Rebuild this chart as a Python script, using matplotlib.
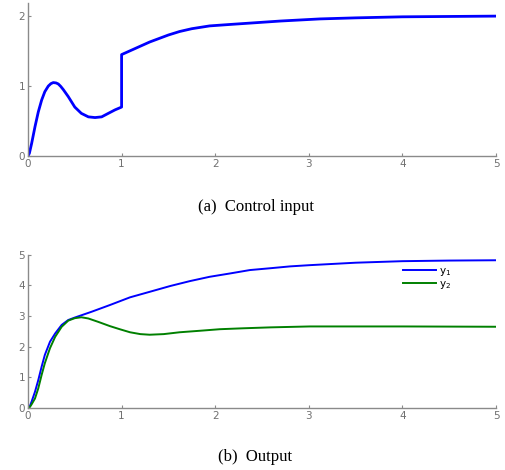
import matplotlib
matplotlib.use("Agg")
import matplotlib.pyplot as plt

# control input u(t), jump at t = 1
u_t = [0, 0.015, 0.039, 0.075, 0.11, 0.146, 0.18, 0.217, 0.245, 0.27, 0.30, 0.324, 0.35, 0.377, 0.43,
       0.50, 0.57, 0.645, 0.716, 0.787, 0.858, 0.93, 1.0,
       1.0, 1.1, 1.2, 1.3, 1.4, 1.5, 1.62, 1.75, 1.94, 2.15, 2.37, 2.7, 3.12, 3.5, 4.0, 4.5, 5.0]
u_v = [0, 0.04, 0.18, 0.42, 0.63, 0.80, 0.92, 1.00, 1.035, 1.05, 1.045, 1.03, 0.995, 0.95, 0.85,
       0.70, 0.61, 0.56, 0.55, 0.56, 0.61, 0.66, 0.70,
       1.45, 1.51, 1.57, 1.63, 1.68, 1.73, 1.78, 1.82, 1.86, 1.88, 1.90, 1.93, 1.96, 1.975, 1.99, 1.995, 2.0]

# output y1
y1_t = [0, 0.02, 0.039, 0.075, 0.11, 0.146, 0.18, 0.235, 0.29, 0.36, 0.43, 0.50, 0.68, 0.876, 1.09,
        1.30, 1.52, 1.73, 1.94, 2.16, 2.37, 2.59, 2.80, 3.01, 3.5, 4.0, 4.5, 5.0]
y1 = [0, 0.06, 0.21, 0.53, 0.91, 1.35, 1.73, 2.16, 2.43, 2.71, 2.87, 2.95, 3.14, 3.36, 3.61,
      3.79, 3.98, 4.14, 4.28, 4.39, 4.50, 4.56, 4.62, 4.66, 4.74, 4.79, 4.81, 4.82]

# output y2
y2_t = [0, 0.02, 0.039, 0.075, 0.11, 0.146, 0.18, 0.235, 0.29, 0.36, 0.43, 0.50, 0.57, 0.645, 0.75,
        0.876, 0.98, 1.09, 1.20, 1.30, 1.45, 1.62, 1.84, 2.05, 2.30, 2.59, 3.01, 3.5, 4.0, 5.0]
y2 = [0, 0.03, 0.12, 0.31, 0.64, 1.08, 1.46, 1.95, 2.32, 2.65, 2.85, 2.93, 2.96, 2.92, 2.81,
      2.67, 2.57, 2.47, 2.41, 2.39, 2.41, 2.47, 2.52, 2.57, 2.60, 2.63, 2.66, 2.66, 2.66, 2.65]

x_ticks = [0, 1, 2, 3, 4, 5]
gray = '#8a8a8a'


def style(ax, yticks, ytop):
    ax.set_xlim(0, 5)
    ax.set_ylim(0, ytop)
    ax.set_xticks(x_ticks)
    ax.set_yticks(yticks)
    for s in ['top', 'right']:
        ax.spines[s].set_visible(False)
    for s in ['left', 'bottom']:
        ax.spines[s].set_color(gray)
        ax.spines[s].set_linewidth(1)
    ax.tick_params(colors=gray, labelcolor='#707070', labelsize=7.5, length=2, width=0.8,
                   direction='in', pad=2)


fig = plt.figure(figsize=(5.06, 4.70), dpi=100)

ax1 = fig.add_axes([0.0553, 0.668, 0.925, 0.326])
ax1.plot(u_t, u_v, color='#0000ff', lw=2.0, solid_joinstyle='round')
style(ax1, [0, 1, 2], 2.19)

ax2 = fig.add_axes([0.0553, 0.132, 0.925, 0.326])
ax2.plot(y1_t, y1, color='#0000ff', lw=1.4, label='y$_1$')
ax2.plot(y2_t, y2, color='#008000', lw=1.4, label='y$_2$')
style(ax2, [0, 1, 2, 3, 4, 5], 5)
ax2.legend(frameon=False, loc='upper left', bbox_to_anchor=(0.79, 0.96), fontsize=7.5,
           handlelength=3.2, handletextpad=0.3, labelspacing=0.1, borderpad=0)

fig.text(0.505, 0.559, '(a)  Control input', ha='center', va='center',
         family='Liberation Serif', fontsize=12)
fig.text(0.505, 0.028, '(b)  Output', ha='center', va='center',
         family='Liberation Serif', fontsize=12)

fig.savefig('out.png', dpi=100)
plt.close()
